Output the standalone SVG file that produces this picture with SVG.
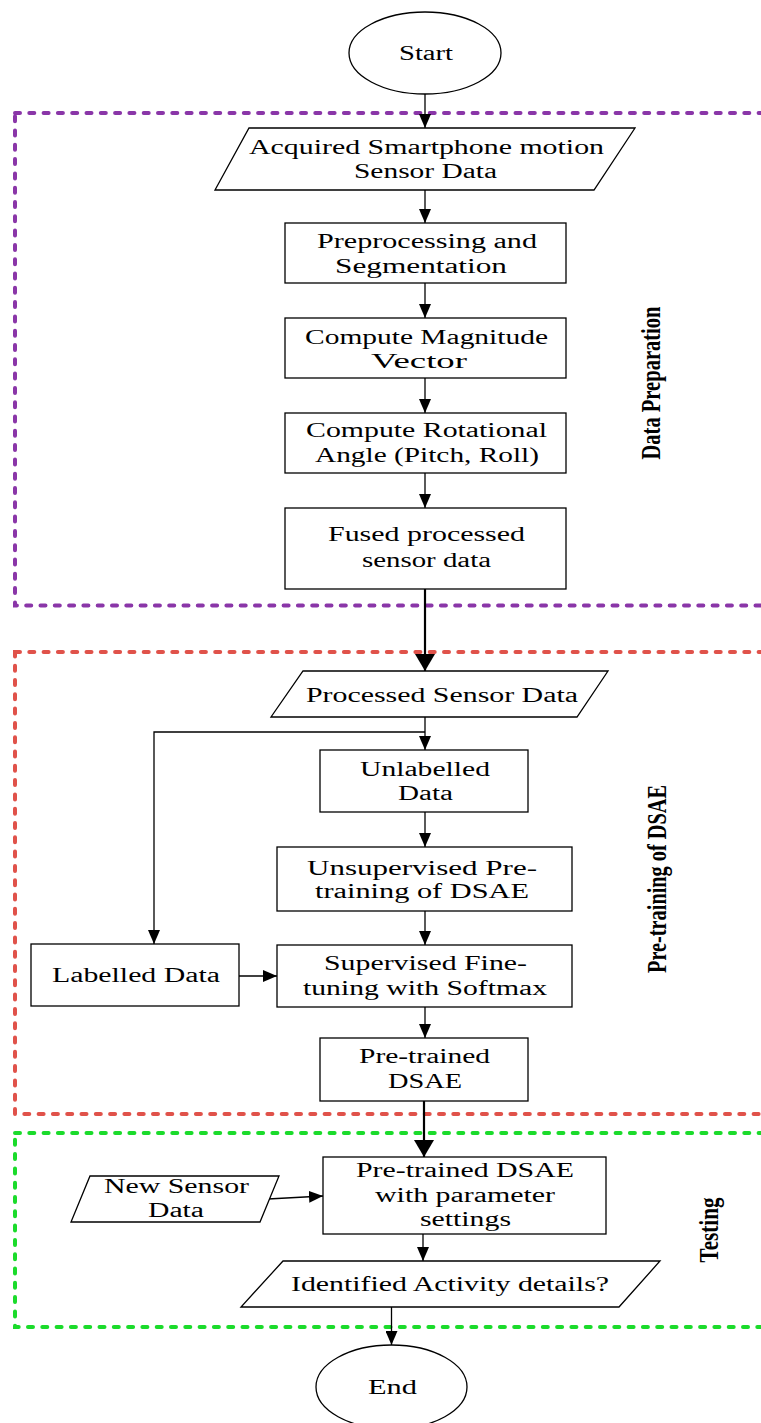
<svg xmlns="http://www.w3.org/2000/svg" width="761" height="1423" viewBox="0 0 761 1423">
<style>
.n{fill:#fff;stroke:#000;stroke-width:1.3}
.t{font-family:"Liberation Serif","Times New Roman",serif;font-size:20px;fill:#000}
.lb{font-family:"Liberation Serif","Times New Roman",serif;font-size:28px;font-weight:bold;fill:#000}
.c{fill:none;stroke:#000;stroke-width:1.3}
.ct{fill:none;stroke:#000;stroke-width:2.2}
.zone{fill:none;stroke-width:4;stroke-dasharray:5 9.3;stroke-linecap:round}
</style>
<defs>
<marker id="a" markerUnits="userSpaceOnUse" viewBox="0 0 14 12" refX="14" refY="6" markerWidth="14" markerHeight="12" orient="auto"><path d="M0,0 L14,6 L0,12 z" fill="#000"/></marker>
<marker id="ab" markerUnits="userSpaceOnUse" viewBox="0 0 17 20" refX="17" refY="10" markerWidth="17" markerHeight="20" orient="auto"><path d="M0,0 L17,10 L0,20 z" fill="#000"/></marker>
</defs>
<rect width="761" height="1423" fill="#fff"/>
<g id="zones">
<rect class="zone" x="15" y="113" width="770" height="492.5" stroke="#8A36A8"/>
<rect class="zone" x="15" y="652" width="770" height="462" stroke="#E0524A"/>
<rect class="zone" x="15" y="1133" width="770" height="194" stroke="#1BDB2B"/>
</g>
<g id="zone-labels">
<text class="lb" transform="translate(660,383) rotate(-90)" text-anchor="middle" textLength="153" lengthAdjust="spacingAndGlyphs">Data Preparation</text>
<text class="lb" transform="translate(666,879) rotate(-90)" text-anchor="middle" textLength="188" lengthAdjust="spacingAndGlyphs">Pre-training of DSAE</text>
<text class="lb" transform="translate(718,1230) rotate(-90)" text-anchor="middle" textLength="65" lengthAdjust="spacingAndGlyphs">Testing</text>
</g>
<g id="connectors">
<line class="c" x1="425" y1="94" x2="425" y2="128" marker-end="url(#a)"/>
<line class="c" x1="425" y1="190" x2="425" y2="223" marker-end="url(#a)"/>
<line class="c" x1="425" y1="283" x2="425" y2="318" marker-end="url(#a)"/>
<line class="c" x1="425" y1="378" x2="425" y2="413" marker-end="url(#a)"/>
<line class="c" x1="425" y1="473" x2="425" y2="508" marker-end="url(#a)"/>
<line class="ct" x1="425" y1="589" x2="425" y2="671" marker-end="url(#ab)"/>
<line class="c" x1="425" y1="717" x2="425" y2="750" marker-end="url(#a)"/>
<path class="c" d="M425,732 H154 V944" marker-end="url(#a)"/>
<line class="c" x1="425" y1="812" x2="425" y2="847" marker-end="url(#a)"/>
<line class="c" x1="425" y1="911" x2="425" y2="945" marker-end="url(#a)"/>
<line class="c" x1="239" y1="976" x2="277" y2="976" marker-end="url(#a)"/>
<line class="c" x1="425" y1="1007" x2="425" y2="1038" marker-end="url(#a)"/>
<line class="ct" x1="424" y1="1101" x2="424" y2="1157" marker-end="url(#ab)"/>
<line class="c" x1="268" y1="1199" x2="323" y2="1196" marker-end="url(#a)"/>
<line class="c" x1="423" y1="1234" x2="423" y2="1261" marker-end="url(#a)"/>
<line class="c" x1="391.5" y1="1307" x2="391.5" y2="1345" marker-end="url(#a)"/>
</g>
<g id="start">
<ellipse class="n" cx="425" cy="53" rx="76" ry="41"/>
<text class="t" x="399" y="60" textLength="54" lengthAdjust="spacingAndGlyphs">Start</text>
</g>
<g id="acquired">
<polygon class="n" points="249,128 635,128 594,190 215,190"/>
<text class="t" x="249" y="154" textLength="355" lengthAdjust="spacingAndGlyphs">Acquired Smartphone motion</text>
<text class="t" x="354" y="178" textLength="143" lengthAdjust="spacingAndGlyphs">Sensor Data</text>
</g>
<g id="preprocessing">
<rect class="n" x="285" y="223" width="281" height="60"/>
<text class="t" x="317" y="248" textLength="220" lengthAdjust="spacingAndGlyphs">Preprocessing and</text>
<text class="t" x="335" y="273" textLength="172" lengthAdjust="spacingAndGlyphs">Segmentation</text>
</g>
<g id="magnitude">
<rect class="n" x="285" y="318" width="281" height="60"/>
<text class="t" x="305" y="344" textLength="243" lengthAdjust="spacingAndGlyphs">Compute Magnitude</text>
<text class="t" x="371" y="368" textLength="96" lengthAdjust="spacingAndGlyphs">Vector</text>
</g>
<g id="rotational">
<rect class="n" x="285" y="413" width="281" height="60"/>
<text class="t" x="306" y="437" textLength="241" lengthAdjust="spacingAndGlyphs">Compute Rotational</text>
<text class="t" x="315" y="462" textLength="224" lengthAdjust="spacingAndGlyphs">Angle (Pitch, Roll)</text>
</g>
<g id="fused">
<rect class="n" x="285" y="508" width="281" height="81"/>
<text class="t" x="328" y="541" textLength="197" lengthAdjust="spacingAndGlyphs">Fused processed</text>
<text class="t" x="362" y="567" textLength="129" lengthAdjust="spacingAndGlyphs">sensor data</text>
</g>
<g id="processed">
<polygon class="n" points="303,671 608,671 577,717 271,717"/>
<text class="t" x="306" y="702" textLength="272" lengthAdjust="spacingAndGlyphs">Processed Sensor Data</text>
</g>
<g id="unlabelled">
<rect class="n" x="320" y="750" width="208" height="62"/>
<text class="t" x="360" y="776" textLength="130" lengthAdjust="spacingAndGlyphs">Unlabelled</text>
<text class="t" x="398" y="800" textLength="55" lengthAdjust="spacingAndGlyphs">Data</text>
</g>
<g id="unsupervised">
<rect class="n" x="277" y="847" width="295" height="64"/>
<text class="t" x="307" y="875" textLength="230" lengthAdjust="spacingAndGlyphs">Unsupervised Pre-</text>
<text class="t" x="315" y="898" textLength="214" lengthAdjust="spacingAndGlyphs">training of DSAE</text>
</g>
<g id="labelled">
<rect class="n" x="31" y="944" width="208" height="62"/>
<text class="t" x="52" y="982" textLength="168" lengthAdjust="spacingAndGlyphs">Labelled Data</text>
</g>
<g id="supervised">
<rect class="n" x="277" y="945" width="295" height="62"/>
<text class="t" x="324" y="970" textLength="203" lengthAdjust="spacingAndGlyphs">Supervised Fine-</text>
<text class="t" x="303" y="995" textLength="244" lengthAdjust="spacingAndGlyphs">tuning with Softmax</text>
</g>
<g id="pretrained">
<rect class="n" x="320" y="1038" width="208" height="63"/>
<text class="t" x="359" y="1063" textLength="131" lengthAdjust="spacingAndGlyphs">Pre-trained</text>
<text class="t" x="388" y="1088" textLength="74" lengthAdjust="spacingAndGlyphs">DSAE</text>
</g>
<g id="pretrained-params">
<rect class="n" x="323" y="1157" width="283" height="77"/>
<text class="t" x="356" y="1177" textLength="218" lengthAdjust="spacingAndGlyphs">Pre-trained DSAE</text>
<text class="t" x="375" y="1202" textLength="180" lengthAdjust="spacingAndGlyphs">with parameter</text>
<text class="t" x="420" y="1226" textLength="91" lengthAdjust="spacingAndGlyphs">settings</text>
</g>
<g id="new-sensor">
<polygon class="n" points="90,1176 279,1176 260,1222 71,1222"/>
<text class="t" x="104" y="1193" textLength="145" lengthAdjust="spacingAndGlyphs">New Sensor</text>
<text class="t" x="148" y="1217" textLength="56" lengthAdjust="spacingAndGlyphs">Data</text>
</g>
<g id="identified">
<polygon class="n" points="283,1261 660,1261 619,1307 241,1307"/>
<text class="t" x="291" y="1291" textLength="318" lengthAdjust="spacingAndGlyphs">Identified Activity details?</text>
</g>
<g id="end">
<ellipse class="n" cx="391.5" cy="1387" rx="75.5" ry="42"/>
<text class="t" x="368" y="1394" textLength="49" lengthAdjust="spacingAndGlyphs">End</text>
</g>
</svg>
